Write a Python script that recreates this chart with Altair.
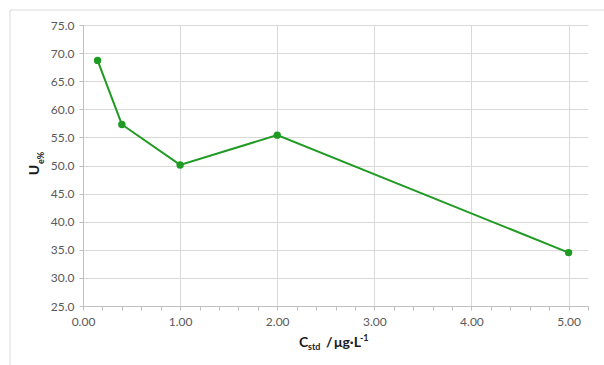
import altair as alt
import pandas as pd

# Standard concentration (µg/L) and expanded relative uncertainty (%)
c_std = [0.15, 0.4, 1.0, 2.0, 5.0]
u_pct = [68.7, 57.3, 50.1, 55.4, 34.5]

x_ticks = [round(i * 0.2, 1) for i in range(27)]
y_ticks = [25, 30, 35, 40, 45, 50, 55, 60, 65, 70, 75]

W, H = 505, 281
GREEN = "#1f9a22"
GRID = "#d9d9d9"
LABEL = "#595959"
FONT = "Lato"

df = pd.DataFrame({"c": c_std, "u": u_pct})

is_major = "abs(datum.value - round(datum.value)) < 1e-6"

base = alt.Chart(df).encode(
    x=alt.X(
        "c:Q",
        scale=alt.Scale(domain=[0, 5.2], nice=False, zero=False),
        axis=alt.Axis(
            values=x_ticks,
            labelExpr=f"{is_major} ? format(datum.value, '.2f') : ''",
            gridOpacity={"condition": {"test": is_major, "value": 1}, "value": 0},
            gridColor=GRID,
            domainColor="#bfbfbf",
            tickColor="#bfbfbf",
            tickSize=4,
            labelColor=LABEL,
            labelFont=FONT,
            labelFontSize=12,
            labelPadding=6,
            labelFlush=False,
            labelOverlap=False,
            title=None,
        ),
    ),
    y=alt.Y(
        "u:Q",
        scale=alt.Scale(domain=[25, 75], nice=False, zero=False),
        axis=alt.Axis(
            values=y_ticks,
            format=".1f",
            gridColor=GRID,
            domainColor="#bfbfbf",
            tickColor="#bfbfbf",
            tickSize=4,
            labelColor=LABEL,
            labelFont=FONT,
            labelFontSize=12,
            labelPadding=5,
            labelFlush=False,
            title=None,
        ),
    ),
)

line = base.mark_line(color=GREEN, strokeWidth=2)
points = base.mark_circle(color=GREEN, size=55, opacity=1)

one = pd.DataFrame({"k": [0]})


def label(text, x, y, size, angle=0, align="left"):
    return (
        alt.Chart(one)
        .mark_text(
            text=text,
            font=FONT,
            fontWeight="bold",
            fontSize=size,
            color="#1a1a1a",
            align=align,
            baseline="alphabetic",
            angle=angle,
        )
        .encode(x=alt.value(x), y=alt.value(y))
    )


# Frame around the chart area
frame_top = alt.Chart(one).mark_rule(color=GRID, strokeWidth=1).encode(
    x=alt.value(-73), x2=alt.value(W + 16), y=alt.value(-15)
)
frame_left = alt.Chart(one).mark_rule(color=GRID, strokeWidth=1).encode(
    x=alt.value(-73), y=alt.value(-15), y2=alt.value(H + 59)
)

# x title: C_std / µg·L^-1
x_title = [
    label("C", 216, 322, 14),
    label("std", 225, 325, 9),
    label("/", 243, 322, 14),
    label("μg·L", 251, 322, 14),
    label("-1", 277, 316, 9),
]
# y title: U_e%
y_title = [
    label("U", -44, 145, 14, angle=270, align="center"),
    label("e%", -39, 139, 9, angle=270, align="left"),
]

chart = (
    alt.layer(frame_top, frame_left, line, points, *x_title, *y_title)
    .properties(
        width=W,
        height=H,
        autosize=alt.AutoSizeParams(type="none"),
        padding={"left": 83, "top": 25, "right": 16, "bottom": 59},
        background="white",
    )
    .configure_view(stroke=None)
)

chart.save("out.html", embed_options={"renderer": "svg", "actions": False})
